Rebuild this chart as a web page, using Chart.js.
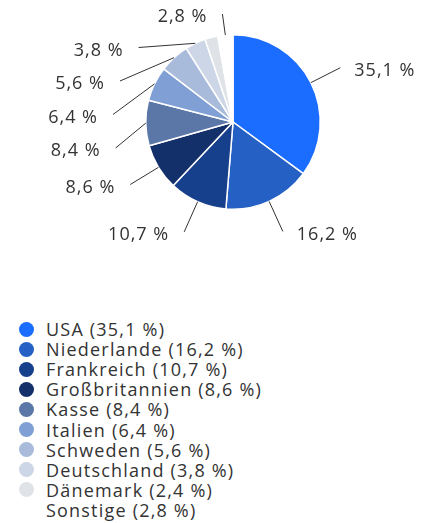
<!DOCTYPE html>
<html lang="de">
<head>
<meta charset="utf-8">
<script src="https://cdn.jsdelivr.net/npm/chart.js@4"></script>
<style>
  html, body { margin: 0; padding: 0; background: #fff; }
  body { width: 429px; height: 523px; overflow: hidden; font-family: "Open Sans", sans-serif; color: #333; }
  #wrap { position: relative; width: 429px; height: 280px; }
  #legend { list-style: none; margin: 0; padding: 0; position: absolute; left: 19px; top: 319px; }
  #legend li { display: flex; align-items: center; height: 20.1px; font-size: 18px; letter-spacing: 1.2px; white-space: nowrap; }
  #legend .dot { width: 15px; height: 15px; border-radius: 50%; margin-right: 12px; flex: none; }
</style>
</head>
<body>
<div id="wrap"><canvas id="pieChart"></canvas></div>
<ul id="legend"></ul>
<script>
/* ── data ── */
const countries = ['USA', 'Niederlande', 'Frankreich', 'Großbritannien', 'Kasse', 'Italien', 'Schweden', 'Deutschland', 'Dänemark', 'Sonstige'];
const shares    = [35.1, 16.2, 10.7, 8.6, 8.4, 6.4, 5.6, 3.8, 2.4, 2.8];
const colors    = ['#1a6dff', '#2561c4', '#163f8c', '#13306b', '#5a77a8', '#7f9fd5', '#a8bbdb', '#cdd6e6', '#dfe2e7', '#ffffff'];

const LABEL_MIN = 2.5;   // smaller slices get no outside label
const TEXT = '#333';

const fmt = v => v.toFixed(1).replace('.', ',') + ' %';

/* ── outside labels with straight connectors ── */
const outsideLabels = {
  id: 'outsideLabels',
  afterDatasetsDraw(chart) {
    const ctx = chart.ctx;
    const arcs = chart.getDatasetMeta(0).data;
    const items = [];
    arcs.forEach((arc, i) => {
      if (shares[i] < LABEL_MIN) return;
      const { x: cx, y: cy, startAngle, endAngle, outerRadius: r } = arc.getProps(['x', 'y', 'startAngle', 'endAngle', 'outerRadius'], true);
      const mid = (startAngle + endAngle) / 2;
      const rl = r + 33;
      items.push({
        i, cx, cy, r, rl, mid,
        left: Math.cos(mid) < 0,
        nx: cx + rl * Math.cos(mid),
        ny: cy + rl * Math.sin(mid),
      });
    });

    const top = 14, gap = 33.5;
    [true, false].forEach(side => {
      const list = items.filter(it => it.left === side).sort((a, b) => a.ny - b.ny);
      let prev = -Infinity;
      list.forEach(it => {
        let y = Math.max(it.ny, top);
        let pushed = false;
        if (y < prev + gap) { y = prev + gap; pushed = true; }
        it.y = y;
        if (pushed) {
          const dy = y - it.cy;
          const dx = Math.sqrt(Math.max(it.rl * it.rl - dy * dy, 0));
          it.x = it.cx + (side ? -dx : dx);
        } else {
          it.x = it.nx;
        }
        prev = y;
      });
    });

    ctx.save();
    ctx.strokeStyle = TEXT;
    ctx.lineWidth = 1;
    ctx.fillStyle = TEXT;
    ctx.font = '18px "Open Sans", sans-serif';
    ctx.letterSpacing = '1px';
    ctx.textBaseline = 'middle';
    items.forEach(it => {
      const sx = it.cx + it.r * Math.cos(it.mid);
      const sy = it.cy + it.r * Math.sin(it.mid);
      ctx.beginPath();
      ctx.moveTo(sx, sy);
      ctx.lineTo(it.x, it.y);
      ctx.stroke();
      ctx.textAlign = it.left ? 'right' : 'left';
      ctx.fillText(fmt(shares[it.i]), it.x + (it.left ? -15 : 14), it.y + 3);
    });
    ctx.restore();
  }
};

/* ── pie ── */
new Chart(document.getElementById('pieChart'), {
  type: 'pie',
  data: {
    labels: countries,
    datasets: [{
      data: shares,
      backgroundColor: colors,
      borderColor: '#fff',
      borderWidth: 1.5,
    }]
  },
  options: {
    responsive: true,
    maintainAspectRatio: false,
    animation: false,
    events: [],
    layout: { padding: { top: 34, bottom: 70, left: 145, right: 108 } },
    plugins: {
      legend: { display: false },
      tooltip: { enabled: false },
    }
  },
  plugins: [outsideLabels]
});

/* ── legend ── */
const legend = document.getElementById('legend');
countries.forEach((name, i) => {
  const li = document.createElement('li');
  const dot = document.createElement('span');
  dot.className = 'dot';
  dot.style.background = colors[i];
  li.appendChild(dot);
  li.appendChild(document.createTextNode(name + ' (' + fmt(shares[i]) + ')'));
  legend.appendChild(li);
});
</script>
</body>
</html>
